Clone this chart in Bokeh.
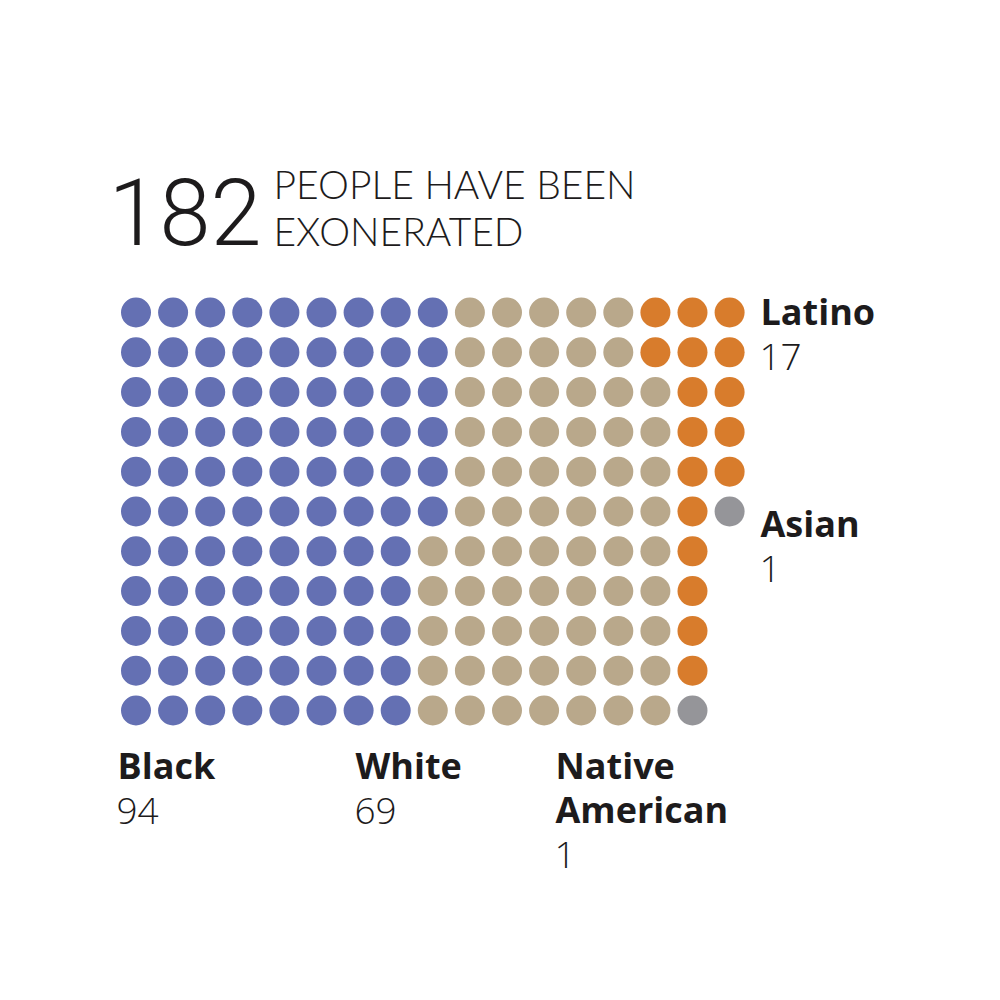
from bokeh.plotting import figure
from bokeh.models import Range1d, ColumnDataSource
from bokeh.core.properties import value
from bokeh.embed import file_html
from bokeh.resources import INLINE

# ---------------- data ----------------
categories = ["Black", "White", "Native American", "Latino", "Asian"]
counts = [94, 69, 1, 17, 1]
display_labels = ["Black", "White", "Native\nAmerican", "Latino", "Asian"]
colors = ["#6470b3", "#b9a88b", "#959599", "#d87c2c", "#959599"]
headline_lines = ["PEOPLE HAVE BEEN", "EXONERATED"]

# how each column of the waffle is stacked, top to bottom (category, count)
column_stacks = (
    [[("Black", 11)]] * 8
    + [[("Black", 6), ("White", 5)]]
    + [[("White", 11)]] * 5
    + [[("Latino", 2), ("White", 9)],
       [("Latino", 10), ("Native American", 1)],
       [("Latino", 5), ("Asian", 1)]]
)

# ---------------- layout ----------------
W = H = 984
DX, DY = 37.1, 39.8          # pixels per column / row
X0, Y0 = 135.5, 312          # pixel centre of first dot


def px(xp, yp):
    """page pixel (x, y) -> data coords (col, row)"""
    return (xp - X0) / DX, (yp - Y0) / DY


xs, ys, cs = [], [], []
color_of = dict(zip(categories, colors))
tally = {c: 0 for c in categories}
for ci, stack in enumerate(column_stacks):
    r = 0
    for cat, n in stack:
        for _ in range(n):
            xs.append(ci)
            ys.append(r)
            cs.append(color_of[cat])
            tally[cat] += 1
            r += 1
assert [tally[c] for c in categories] == counts

p = figure(width=W, height=H, output_backend="svg", toolbar_location=None,
           x_axis_type=None, y_axis_type=None, min_border=0,
           x_range=Range1d(-X0 / DX, (W - X0) / DX),
           y_range=Range1d((H - Y0) / DY, -Y0 / DY))
p.grid.visible = False
p.outline_line_color = None
p.background_fill_color = "white"
p.border_fill_color = "white"

p.scatter(x="x", y="y", color="c", size=30, marker="circle", line_color=None,
          source=ColumnDataSource(dict(x=xs, y=ys, c=cs)))

TEXT = "#1d1b1c"
K = 0.39  # baseline correction (fraction of font size)

# big number
BIG = 92
bx, by = px(108, 238 - 0.29 * BIG)
p.text(x=[bx], y=[by], text=[str(sum(counts))],
       text_font=value("Roboto Light, Roboto, sans-serif"),
       text_font_size=f"{BIG}px",
       text_color=TEXT, text_baseline="alphabetic", text_align="left")

# headline
HS = 39
hx, hy1 = px(273, 199 - K * HS)
_, hy2 = px(273, 246 - K * HS)
p.text(x=[hx, hx], y=[hy1, hy2], text=headline_lines,
       text_font=value("Lato Light, Lato, sans-serif"), text_font_size=f"{HS}px",
       text_color=TEXT, text_baseline="alphabetic", text_align="left")

# category labels: (left x, first baseline) in page pixels
anchors = {
    "Black": (117, 779),
    "White": (355, 779),
    "Native American": (555, 779),
    "Latino": (760, 325),
    "Asian": (760, 537),
}
LS, NS = 36, 37
LINE = 44
lx, ly, lt = [], [], []
nx, ny, nt = [], [], []
for cat, lab, n in zip(categories, display_labels, counts):
    ax, ay = anchors[cat]
    lines = lab.split("\n")
    for i, line in enumerate(lines):
        x, y = px(ax, ay + i * LINE - K * LS)
        lx.append(x); ly.append(y); lt.append(line)
    x, y = px(ax - 1, ay + len(lines) * LINE + 2 - K * NS)
    nx.append(x); ny.append(y); nt.append(str(n))

p.text(x=lx, y=ly, text=lt, text_font=value("Open Sans"), text_font_size=f"{LS}px",
       text_font_style="bold", text_color=TEXT,
       text_baseline="alphabetic", text_align="left")
p.text(x=nx, y=ny, text=nt, text_font=value("Open Sans Light, Open Sans, sans-serif"),
       text_font_size=f"{NS}px",
       text_color=TEXT, text_baseline="alphabetic", text_align="left")

open("out.html", "w").write(file_html(p, INLINE))
